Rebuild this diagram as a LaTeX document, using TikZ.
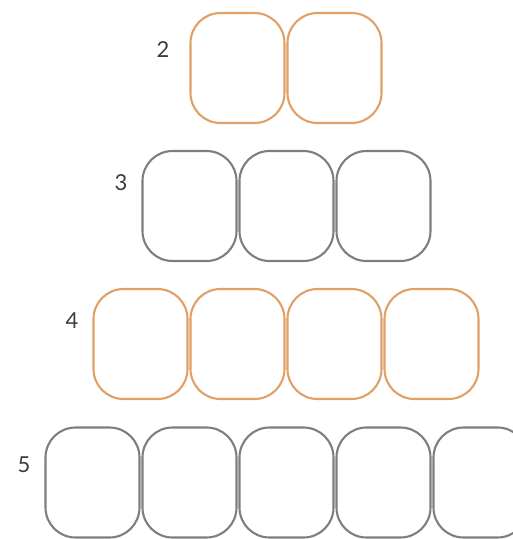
\documentclass[tikz,border=0pt]{standalone}
\usepackage{fontspec}
\setmainfont{Lato}
\definecolor{boxorange}{HTML}{E0A066}
\definecolor{boxgrey}{HTML}{7E7E80}
\definecolor{numgrey}{HTML}{3C3C3C}
\begin{document}
\begin{tikzpicture}[x=1pt,y=-1pt,
  cell/.style={draw, line width=2.1pt, rounded corners=30pt, minimum width=94pt, minimum height=110pt, inner sep=0pt, fill=white},
  orangecell/.style={cell, draw=boxorange},
  greycell/.style={cell, draw=boxgrey},
  num/.style={text=numgrey, font=\fontsize{22}{22}\selectfont, inner sep=0pt}]
\useasboundingbox (0,0) rectangle (513,539);
\clip (0,0) rectangle (513,539);
% row 2
\node[num] (n2) at (163,50) {2};
\node[orangecell] (r2a) at (237.5,68) {};
\node[orangecell] (r2b) at (334.5,68) {};
% row 3
\node[num] (n3) at (121,183) {3};
\node[greycell] (r3a) at (189.5,206) {};
\node[greycell] (r3b) at (286.5,206) {};
\node[greycell] (r3c) at (383.5,206) {};
% row 4
\node[num] (n4) at (72,321) {4};
\node[orangecell] (r4a) at (140.5,344) {};
\node[orangecell] (r4b) at (237.5,344) {};
\node[orangecell] (r4c) at (334.5,344) {};
\node[orangecell] (r4d) at (431.5,344) {};
% row 5
\node[num] (n5) at (24,465) {5};
\node[greycell] (r5a) at (92.5,482.5) {};
\node[greycell] (r5b) at (189.5,482.5) {};
\node[greycell] (r5c) at (286.5,482.5) {};
\node[greycell] (r5d) at (383.5,482.5) {};
\node[greycell] (r5e) at (480.5,482.5) {};
\end{tikzpicture}
\end{document}
